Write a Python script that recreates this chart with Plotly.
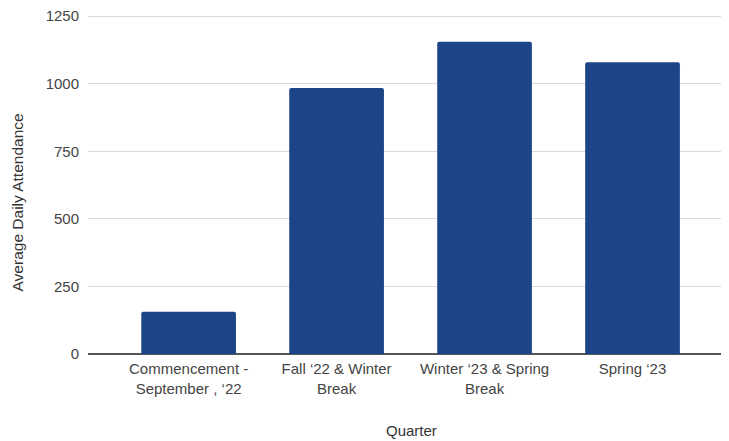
import plotly.graph_objects as go

categories = [
    "Commencement -<br>September , ‘22",
    "Fall ‘22 & Winter<br>Break",
    "Winter ‘23 & Spring<br>Break",
    "Spring ‘23",
]
attendance = [156, 984, 1155, 1079]
y_ticks = [0, 250, 500, 750, 1000, 1250]

FONT = "Liberation Sans, Arial, sans-serif"

fig = go.Figure(
    go.Bar(
        x=list(range(len(categories))),
        y=attendance,
        width=0.64,
        marker=dict(color="#1c4587", line=dict(width=0), cornerradius=2),
    )
)

# page body has an 8px margin, so the figure is 8px smaller and offset
fig.update_layout(
    width=721,
    height=433,
    margin=dict(l=80, r=0, t=7, b=87, autoexpand=False),
    plot_bgcolor="white",
    paper_bgcolor="white",
    font=dict(family=FONT, size=15, color="#444"),
    showlegend=False,
    xaxis=dict(
        range=[-0.68, 3.652],
        tickmode="array",
        tickvals=list(range(len(categories))),
        ticktext=categories,
        showgrid=False,
        showline=False,
        zeroline=False,
        ticks="",
        ticklabelstandoff=4,
        automargin=False,
    ),
    yaxis=dict(
        range=[0, 1254],
        tickmode="array",
        tickvals=y_ticks,
        showgrid=True,
        gridcolor="#d9d9d9",
        gridwidth=1,
        zeroline=True,
        zerolinecolor="#555",
        zerolinewidth=1.5,
        ticks="",
        ticklabelstandoff=8,
        ticklabeloverflow="allow",
        automargin=False,
    ),
    annotations=[
        dict(
            text="Average Daily Attendance",
            xref="paper", yref="paper",
            x=-0.1108, y=0.447,
            xanchor="center", yanchor="middle",
            textangle=-90, showarrow=False,
            font=dict(family=FONT, size=15.5, color="#333"),
        ),
        dict(
            text="Quarter",
            xref="paper", yref="paper",
            x=0.504, y=-0.225,
            xanchor="center", yanchor="middle",
            showarrow=False,
            font=dict(family=FONT, size=15, color="#333"),
        ),
    ],
)

fig.write_html("out.html")
